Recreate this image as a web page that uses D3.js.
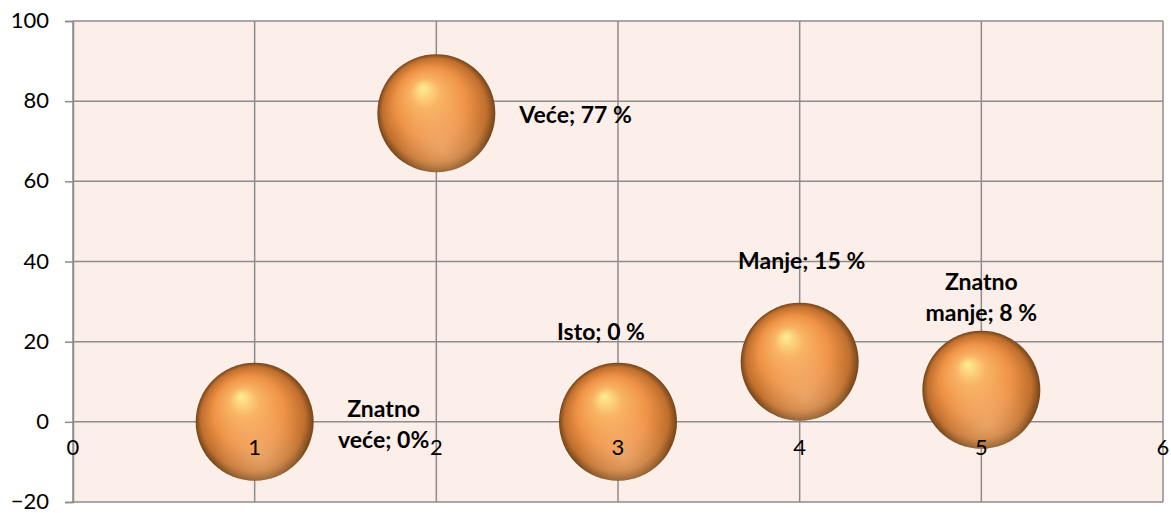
<!DOCTYPE html>
<html>
<head>
<meta charset="utf-8">
<script src="https://cdn.jsdelivr.net/npm/d3@7"></script>
<style>
  body { margin: 0; background: #ffffff; }
  svg { display: block; }
  text { font-family: Lato, "Noto Sans", sans-serif; }
</style>
</head>
<body>
<div id="chart"></div>
<script>
// chart data
const categories = ["Znatno veće", "Veće", "Isto", "Manje", "Znatno manje"];
const xValues = [1, 2, 3, 4, 5];
const yValues = [0, 77, 0, 15, 8];
const bubbleSizes = [1, 1, 1, 1, 1];
const labelLines = [
  ["Znatno", "veće; 0%"],
  ["Veće; 77 %"],
  ["Isto; 0 %"],
  ["Manje; 15 %"],
  ["Znatno", "manje; 8 %"]
];
const xTicks = [0, 1, 2, 3, 4, 5, 6];
const yTicks = [-20, 0, 20, 40, 60, 80, 100];

// label placement relative to the bubble centre (dx, dy, anchor)
const labelPlace = [
  { dx: 129, dy: -13, anchor: "middle" },
  { dx: 83, dy: 2, anchor: "start" },
  { dx: -17, dy: -90, anchor: "middle" },
  { dx: 2, dy: -101, anchor: "middle" },
  { dx: 0, dy: -108, anchor: "middle" }
];

const width = 1171, height = 513;
const margin = { top: 21, right: 8, bottom: 11, left: 73 };

const svg = d3.select("#chart").append("svg")
  .attr("width", width)
  .attr("height", height);

const x = d3.scaleLinear().domain([0, 6]).range([margin.left, width - margin.right]);
const y = d3.scaleLinear().domain([-20, 100]).range([height - margin.bottom, margin.top]);
const r = d3.scaleSqrt().domain([0, 1]).range([0, 59]);

// gradients for the shiny spheres
const defs = svg.append("defs");
const g1 = defs.append("radialGradient")
  .attr("id", "sphere")
  .attr("cx", "50%").attr("cy", "50%").attr("r", "50%")
  .attr("fx", "38%").attr("fy", "28%");
g1.append("stop").attr("offset", "0%").attr("stop-color", "#ffee94");
g1.append("stop").attr("offset", "25%").attr("stop-color", "#f9b464");
g1.append("stop").attr("offset", "60%").attr("stop-color", "#ef9246");
g1.append("stop").attr("offset", "88%").attr("stop-color", "#c06f2e");
g1.append("stop").attr("offset", "100%").attr("stop-color", "#74451a");

const g2 = defs.append("radialGradient")
  .attr("id", "reflect")
  .attr("cx", "55%").attr("cy", "80%").attr("r", "40%");
g2.append("stop").attr("offset", "0%").attr("stop-color", "#f7c08a").attr("stop-opacity", 0.55);
g2.append("stop").attr("offset", "100%").attr("stop-color", "#f7c08a").attr("stop-opacity", 0);

// plot background
svg.append("rect")
  .attr("x", x(0)).attr("y", y(100))
  .attr("width", x(6) - x(0)).attr("height", y(-20) - y(100))
  .attr("fill", "#fcefea");

// y axis with tick marks
const yAxis = d3.axisLeft(y).tickValues(yTicks).tickSize(8).tickPadding(16);
const yg = svg.append("g").attr("transform", `translate(${x(0)},0)`).call(yAxis);
yg.select(".domain").attr("stroke", "#8c8c8c").attr("stroke-width", 1.5);
yg.selectAll(".tick line").attr("stroke", "#8c8c8c").attr("stroke-width", 1.5);
yg.selectAll(".tick text").attr("font-size", 22).attr("fill", "#000").attr("dy", "0.3em");

// gridlines
svg.append("g").selectAll("line.h")
  .data(yTicks).join("line")
  .attr("x1", x(0)).attr("x2", x(6))
  .attr("y1", d => y(d)).attr("y2", d => y(d))
  .attr("stroke", "#8c8c8c").attr("stroke-width", 1.5);

svg.append("g").selectAll("line.v")
  .data(xTicks).join("line")
  .attr("x1", d => x(d)).attr("x2", d => x(d))
  .attr("y1", y(100)).attr("y2", y(-20))
  .attr("stroke", "#8c8c8c").attr("stroke-width", 1.5);

// bubbles
const pts = xValues.map((v, i) => ({ x: v, y: yValues[i], s: bubbleSizes[i], lines: labelLines[i], p: labelPlace[i] }));

const bub = svg.append("g").selectAll("g").data(pts).join("g")
  .attr("transform", d => `translate(${x(d.x)},${y(d.y)})`);
bub.append("circle").attr("r", d => r(d.s)).attr("fill", "url(#sphere)");
bub.append("circle").attr("r", d => r(d.s)).attr("fill", "url(#reflect)");

// x axis labels along the zero line
svg.append("g").selectAll("text").data(xTicks).join("text")
  .attr("x", d => x(d)).attr("y", y(0) + 33)
  .attr("text-anchor", "middle")
  .attr("font-size", 22)
  .attr("fill", "#000")
  .text(d => d);

// data labels
const lab = svg.append("g").selectAll("text").data(pts).join("text")
  .attr("x", d => x(d.x) + d.p.dx)
  .attr("y", d => y(d.y) + d.p.dy)
  .attr("text-anchor", d => d.p.anchor)
  .attr("font-size", 23)
  .attr("font-weight", "bold")
  .attr("fill", "#000");
lab.selectAll("tspan").data(d => d.lines.map(t => ({ t, x: x(d.x) + d.p.dx }))).join("tspan")
  .attr("x", t => t.x)
  .attr("dy", (t, i) => i === 0 ? "0.35em" : 31)
  .text(t => t.t);
</script>
</body>
</html>
